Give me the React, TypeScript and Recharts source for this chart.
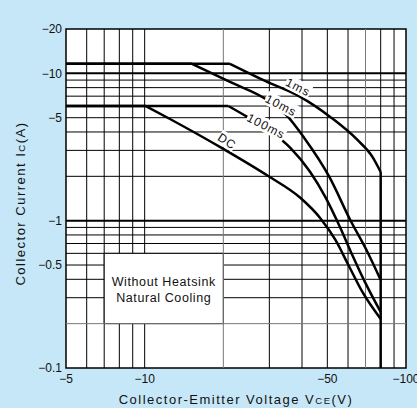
import {
  LineChart,
  Line,
  XAxis,
  YAxis,
  CartesianGrid,
  ReferenceLine,
  ReferenceArea,
  ReferenceDot,
  Label,
} from 'recharts'

const BG = '#c6e7f7'
const FONT = '"Liberation Sans", Arial, sans-serif'

// all values are magnitudes, the axes print them with a minus sign
const voltTicks = [5, 10, 50, 100]
const currentTicks = [0.1, 0.5, 1, 5, 10, 20]
const voltGrid = [6, 7, 8, 9, 10, 20, 30, 40, 50, 60, 70, 80, 90]
const currentGrid = [0.2, 0.3, 0.4, 0.5, 0.6, 0.7, 0.8, 0.9, 1, 2, 3, 4, 5, 6, 7, 8, 9, 10]

// first two points = flat current limit, the rest = the falling part
const pulse1ms = [
  { v: 5, i: 11.6 }, { v: 21.2, i: 11.6 }, { v: 28.9, i: 8.88 }, { v: 39.4, i: 6.92 },
  { v: 51.3, i: 5.06 }, { v: 65.2, i: 3.53 }, { v: 74.4, i: 2.71 }, { v: 80, i: 2.14 },
]
const pulse10ms = [
  { v: 5, i: 11.6 }, { v: 15.2, i: 11.6 }, { v: 21.2, i: 8.74 }, { v: 29.4, i: 6.6 },
  { v: 34.8, i: 5.22 }, { v: 40.8, i: 3.64 }, { v: 50.9, i: 1.98 }, { v: 61.2, i: 1.01 },
  { v: 71.2, i: 0.613 }, { v: 80, i: 0.396 },
]
const pulse100ms = [
  { v: 5, i: 6 }, { v: 20.9, i: 6 }, { v: 24.7, i: 5.06 }, { v: 29.7, i: 4.13 },
  { v: 36.1, i: 3.12 }, { v: 43, i: 2.14 }, { v: 49.1, i: 1.45 }, { v: 56.1, i: 0.892 },
  { v: 62.3, i: 0.585 }, { v: 69.9, i: 0.378 }, { v: 80, i: 0.24 },
]
const dcLine = [
  { v: 5, i: 6 }, { v: 10.1, i: 6 }, { v: 12.5, i: 4.9 }, { v: 20, i: 3.07 },
  { v: 29.7, i: 2.01 }, { v: 39.4, i: 1.43 }, { v: 47, i: 1.04 }, { v: 53.7, i: 0.74 },
  { v: 60.2, i: 0.5 }, { v: 68.1, i: 0.328 }, { v: 80, i: 0.215 },
]
const vceLimit = [{ v: 80, i: 2.14 }, { v: 80, i: 0.1 }]

const curveTags = [
  { text: '1ms', v: 38.7, i: 8.1, angle: 27 },
  { text: '10ms', v: 33.3, i: 6.1, angle: 27 },
  { text: '100ms', v: 29.2, i: 4.4, angle: 27 },
  { text: 'DC', v: 20.7, i: 3.48, angle: 33 },
]

const series = [pulse1ms, pulse10ms, pulse100ms, dcLine]

const fmt = (n: number) => '\u2212' + n

const greyV = [20, 70]
const greyI = [0.2]
const boldI = [1, 10]

function CurveTag(props: any) {
  const { cx, cy, text, angle } = props
  const w = text.length * 7.6 + 4
  return (
    <g transform={`translate(${cx},${cy}) rotate(${angle})`}>
      <rect x={-w / 2} y={-7} width={w} height={14} fill="#fff" />
      <text
        textAnchor="middle"
        dy={4.5}
        fontSize={12}
        letterSpacing={1}
        fontFamily={FONT}
        fill="#111"
      >
        {text}
      </text>
    </g>
  )
}

function NoteText(props: any) {
  const { x, y, width, height } = props.viewBox
  const cx = x + width / 2
  const cy = y + height / 2
  return (
    <text textAnchor="middle" fontSize={12.5} fontFamily={FONT} fill="#111" letterSpacing={0.6}>
      <tspan x={cx} y={cy - 3}>Without Heatsink</tspan>
      <tspan x={cx} y={cy + 13}>Natural Cooling</tspan>
    </text>
  )
}

function XTitle(props: any) {
  const { x, y, width } = props.viewBox
  return (
    <text
      x={x + width / 2}
      y={y + 36}
      textAnchor="middle"
      fontSize={13}
      fontFamily={FONT}
      letterSpacing={1.5}
      fill="#111"
    >
      Collector-Emitter Voltage V<tspan fontSize={9.5}>CE</tspan>(V)
    </text>
  )
}

function YTitle(props: any) {
  const { y, height } = props.viewBox
  const cx = 25
  const cy = y + height / 2 + 5
  return (
    <text
      x={cx}
      y={cy}
      transform={`rotate(-90 ${cx} ${cy})`}
      textAnchor="middle"
      fontSize={13}
      fontFamily={FONT}
      letterSpacing={1.5}
      fill="#111"
    >
      Collector Current I<tspan fontSize={9.5}>C</tspan>(A)
    </text>
  )
}

export default function App() {
  return (
    <div style={{ position: 'absolute', left: 0, top: 0, width: 417, height: 408, background: BG }}>
      <LineChart width={417} height={408} margin={{ top: 29, right: 11, left: 0, bottom: 0 }}>
        <XAxis
          type="number"
          dataKey="v"
          scale="log"
          domain={[5, 100]}
          allowDataOverflow
          ticks={voltTicks}
          interval={0}
          tickFormatter={fmt}
          tickLine={false}
          axisLine={false}
          tickSize={0}
          tickMargin={6}
          height={40}
          tick={{ fontSize: 12, fill: '#111', fontFamily: FONT }}
        >
          <Label content={XTitle} />
        </XAxis>
        <YAxis
          type="number"
          scale="log"
          domain={[0.1, 20]}
          allowDataOverflow
          ticks={currentTicks}
          interval={0}
          tickFormatter={fmt}
          tickLine={false}
          axisLine={false}
          tickSize={0}
          tickMargin={4}
          width={66}
          tick={{ fontSize: 12, fill: '#111', fontFamily: FONT }}
        >
          <Label content={YTitle} />
        </YAxis>

        <CartesianGrid
          fill="#fff"
          fillOpacity={1}
          stroke="#000"
          strokeWidth={1}
          strokeOpacity={1}
          verticalValues={voltGrid.filter((v) => !greyV.includes(v))}
          horizontalValues={currentGrid.filter((c) => !greyI.includes(c) && !boldI.includes(c))}
        />
        {greyV.map((v) => (
          <ReferenceLine key={'v' + v} x={v} stroke="#777" strokeWidth={1} />
        ))}
        {greyI.map((c) => (
          <ReferenceLine key={'g' + c} y={c} stroke="#777" strokeWidth={1} />
        ))}
        {boldI.map((c) => (
          <ReferenceLine key={'b' + c} y={c} stroke="#000" strokeWidth={2} />
        ))}
        <ReferenceArea
          x1={7}
          x2={20}
          y1={0.2}
          y2={0.6}
          fill="#fff"
          fillOpacity={1}
          stroke="#000"
          strokeWidth={1}
          label={<NoteText />}
        />

        {series.map((d, k) => (
          <Line
            key={'flat' + k}
            data={d.slice(0, 2)}
            dataKey="i"
            type="linear"
            stroke="#000"
            strokeWidth={2.5}
            dot={false}
            isAnimationActive={false}
          />
        ))}
        {series.map((d, k) => (
          <Line
            key={'fall' + k}
            data={d.slice(1)}
            dataKey="i"
            type="monotone"
            stroke="#000"
            strokeWidth={2.5}
            dot={false}
            isAnimationActive={false}
          />
        ))}
        <Line
          data={vceLimit}
          dataKey="i"
          type="linear"
          stroke="#000"
          strokeWidth={2.5}
          dot={false}
          isAnimationActive={false}
        />

        {curveTags.map((t) => (
          <ReferenceDot
            key={t.text}
            x={t.v}
            y={t.i}
            r={0}
            shape={(p: any) => <CurveTag cx={p.cx} cy={p.cy} text={t.text} angle={t.angle} />}
          />
        ))}

        <ReferenceArea x1={5} x2={100} y1={0.1} y2={20} fill="none" stroke="#000" strokeWidth={1.5} />
      </LineChart>
    </div>
  )
}
